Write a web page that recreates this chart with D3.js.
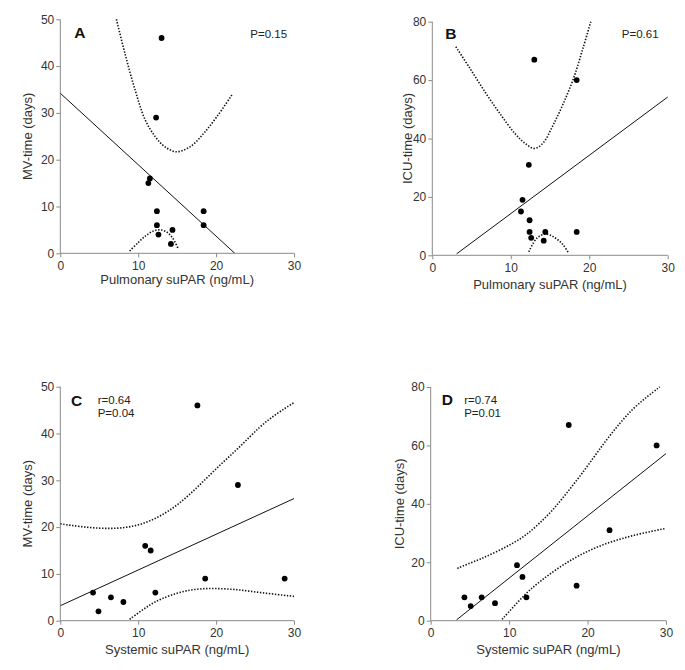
<!DOCTYPE html>
<html><head><meta charset="utf-8">
<script src="https://cdn.jsdelivr.net/npm/d3@7"></script>
<style>
body{margin:0;background:#fff}
svg{display:block}
text{font-family:"Liberation Sans",Arial,Helvetica,sans-serif}
</style>
</head><body>
<svg id="chart" width="685" height="670"></svg>
<script>
// ---------- data ----------
const xTicks = [0, 10, 20, 30];
const mvTicks = [0, 10, 20, 30, 40, 50];
const icuTicks = [0, 20, 40, 60, 80];

// Panel A: pulmonary suPAR vs MV-time
const pulmA = [13.0, 12.3, 11.5, 11.3, 12.4, 12.4, 12.6, 14.4, 14.2, 18.4, 18.4];
const mvA   = [46, 29, 16, 15, 9, 6, 4, 5, 2, 9, 6];
const lineA = [[0, 34.2], [22.4, 0]];
const upperA = [[7.2,50],[8.3,42.7],[9.6,34.9],[10.9,28.5],[12.2,24.9],[13.4,22.8],[14.9,21.7],[16.7,22.8],[18.4,25.6],[20.1,29.2],[22.1,34.0]];
const lowerA = [[8.9,0.5],[10.0,2.3],[11.0,3.8],[12.0,4.8],[12.8,5.0],[13.6,4.6],[14.4,3.3],[15.1,1.1]];

// Panel B: pulmonary suPAR vs ICU-time
const pulmB = [13.0, 18.4, 12.3, 11.5, 11.3, 12.4, 12.4, 12.6, 14.4, 14.2, 18.4];
const icuB  = [67, 60, 31, 19, 15, 12, 8, 6, 8, 5, 8];
const lineB = [[3.1, 0.5], [30, 54.2]];
const upperB = [[3.0,71.4],[4.8,64.0],[6.7,56.0],[8.6,48.6],[10.5,41.8],[11.8,38.4],[13.0,36.6],[14.1,38.4],[15.4,44.6],[16.7,52.0],[18.0,60.6],[19.2,70.9],[20.2,80]];
const lowerB = [[12.3,1.2],[13.3,5.8],[14.4,7.3],[15.4,6.4],[16.5,4.1],[17.3,1.1]];

// Panel C: systemic suPAR vs MV-time
const sysC = [17.6, 22.8, 10.9, 11.6, 18.6, 28.8, 4.2, 4.9, 6.5, 8.1, 12.2];
const mvC  = [46, 29, 16, 15, 9, 9, 6, 2, 5, 4, 6];
const lineC = [[0, 3.2], [30, 26.1]];
const upperC = [[0,20.7],[2.5,20.1],[5.1,19.7],[7.7,19.7],[10.2,20.4],[12.8,22.2],[15.4,25.1],[17.9,29.0],[20.5,33.3],[23.1,37.2],[25.6,41.5],[27.8,44.3],[30,46.6]];
const lowerC = [[8.9,0.3],[10.2,1.9],[11.5,3.4],[12.8,4.6],[15.4,6.2],[17.9,6.9],[20.5,6.9],[23.1,6.6],[25.6,6.0],[30,5.2]];

// Panel D: systemic suPAR vs ICU-time
const sysD = [17.6, 28.8, 22.8, 11.0, 11.7, 18.6, 12.2, 4.3, 5.1, 6.5, 8.2];
const icuD = [67, 60, 31, 19, 15, 12, 8, 8, 5, 8, 6];
const lineD = [[3.3, 0.3], [30, 57.2]];
const upperD = [[3.4,17.9],[4.6,19.3],[6.3,21.0],[8.4,23.6],[10.5,26.5],[12.2,29.3],[13.9,33.4],[15.6,37.9],[17.3,43.6],[19.0,49.3],[20.7,55.6],[22.4,61.9],[24.1,67.6],[25.8,72.7],[27.6,76.7],[29.2,80]];
const lowerD = [[9.1,0.5],[10.5,4.6],[12.2,9.6],[13.9,13.4],[16.1,17.8],[18.2,21.3],[20.3,24.2],[22.4,26.5],[24.6,28.3],[26.7,29.8],[29.8,31.5]];

// ---------- layout ----------
const panels = [
  {letter:"A", xs:pulmA, ys:mvA, line:lineA, upper:upperA, lower:lowerA, yMax:50, yTicks:mvTicks,
   xTitle:"Pulmonary suPAR (ng/mL)", yTitle:"MV-time (days)", notes:["P=0.15"], smooth:false,
   l:60.3, r:294, t:19.3, b:253.3, letterX:14, letterY:18.5, noteX:190, noteY:18.5, yTitleOff:28, xTitleOff:31},
  {letter:"B", xs:pulmB, ys:icuB, line:lineB, upper:upperB, lower:lowerB, yMax:80, yTicks:icuTicks,
   xTitle:"Pulmonary suPAR (ng/mL)", yTitle:"ICU-time (days)", notes:["P=0.61"], smooth:false,
   l:432.3, r:667.7, t:21.7, b:255.3, letterX:13, letterY:17.3, noteX:189.5, noteY:16.5, yTitleOff:20, xTitleOff:34},
  {letter:"C", xs:sysC, ys:mvC, line:lineC, upper:upperC, lower:lowerC, yMax:50, yTicks:mvTicks,
   xTitle:"Systemic suPAR (ng/mL)", yTitle:"MV-time (days)", notes:["r=0.64","P=0.04"], smooth:true,
   l:60.3, r:294, t:386.7, b:620.7, letterX:10.7, letterY:19.3, noteX:37.4, noteY:17.5, yTitleOff:28, xTitleOff:33},
  {letter:"D", xs:sysD, ys:icuD, line:lineD, upper:upperD, lower:lowerD, yMax:80, yTicks:icuTicks,
   xTitle:"Systemic suPAR (ng/mL)", yTitle:"ICU-time (days)", notes:["r=0.74","P=0.01"], smooth:true,
   l:430.7, r:666, t:387, b:620.7, letterX:11, letterY:18, noteX:33.5, noteY:17.3, yTitleOff:27, xTitleOff:33}
];

const svg = d3.select("#chart");
const AXIS = "#8a8a8a", TXT = "#333";

panels.forEach((p, i) => {
  const x = d3.scaleLinear().domain([0, 30]).range([p.l, p.r]);
  const y = d3.scaleLinear().domain([0, p.yMax]).range([p.b, p.t]);
  const g = svg.append("g");

  const clipId = "clip" + i;
  svg.append("clipPath").attr("id", clipId).append("rect")
    .attr("x", p.l).attr("y", p.t - 1).attr("width", p.r - p.l + 2).attr("height", p.b - p.t + 1);

  // axes
  const xAxis = g.append("g").attr("transform", `translate(0,${p.b})`)
    .call(d3.axisBottom(x).tickValues(xTicks).tickSize(4).tickSizeOuter(0).tickPadding(4));
  const yAxis = g.append("g").attr("transform", `translate(${p.l},0)`)
    .call(d3.axisLeft(y).tickValues(p.yTicks).tickSize(4).tickSizeOuter(0).tickPadding(2));
  [xAxis, yAxis].forEach(a => {
    a.select(".domain").attr("stroke", AXIS).attr("stroke-width", 1);
    a.selectAll(".tick line").attr("stroke", AXIS).attr("stroke-width", 1);
    a.selectAll(".tick text").attr("fill", TXT).style("font-size", "12px")
      .style("font-family", '"Liberation Sans",Arial,sans-serif');
  });
  xAxis.select(".domain").attr("d", `M${p.l},0H${p.r}`);
  yAxis.select(".domain").attr("d", `M0,${p.b}V${p.t}`);

  const plot = g.append("g").attr("clip-path", `url(#${clipId})`);
  const lg = d3.line().x(d => x(d[0])).y(d => y(d[1]));
  const cg = d3.line().x(d => x(d[0])).y(d => y(d[1]))
    .curve(p.smooth ? d3.curveBasis : d3.curveCatmullRom.alpha(0.5));

  // regression line
  plot.append("path").attr("d", lg(p.line)).attr("fill", "none")
    .attr("stroke", "#111").attr("stroke-width", 1);
  // confidence bands
  [p.upper, p.lower].forEach(band => {
    plot.append("path").attr("d", cg(band)).attr("fill", "none")
      .attr("stroke", "#111").attr("stroke-width", 1.6)
      .attr("stroke-dasharray", "1.4 1.6");
  });
  // points
  g.append("g").selectAll("circle").data(p.xs.map((v, k) => [v, p.ys[k]])).join("circle")
    .attr("cx", d => x(d[0])).attr("cy", d => y(d[1])).attr("r", 2.9).attr("fill", "#000");

  // letter
  g.append("text").attr("x", p.l + p.letterX).attr("y", p.t + p.letterY)
    .attr("font-weight", "bold").attr("font-size", 15.5).attr("fill", "#111").text(p.letter);
  // notes
  p.notes.forEach((n, k) => {
    g.append("text").attr("x", p.l + p.noteX).attr("y", p.t + p.noteY + k * 12.8)
      .attr("font-size", 11.5).attr("fill", "#222").text(n);
  });
  // axis titles
  g.append("text").attr("x", (p.l + p.r) / 2).attr("y", p.b + p.xTitleOff)
    .attr("text-anchor", "middle").attr("font-size", 13).attr("fill", TXT).text(p.xTitle);
  g.append("text").attr("transform", `translate(${p.l - p.yTitleOff},${(p.t + p.b) / 2}) rotate(-90)`)
    .attr("text-anchor", "middle").attr("font-size", 13).attr("fill", TXT).text(p.yTitle);
});
</script>
</body></html>
